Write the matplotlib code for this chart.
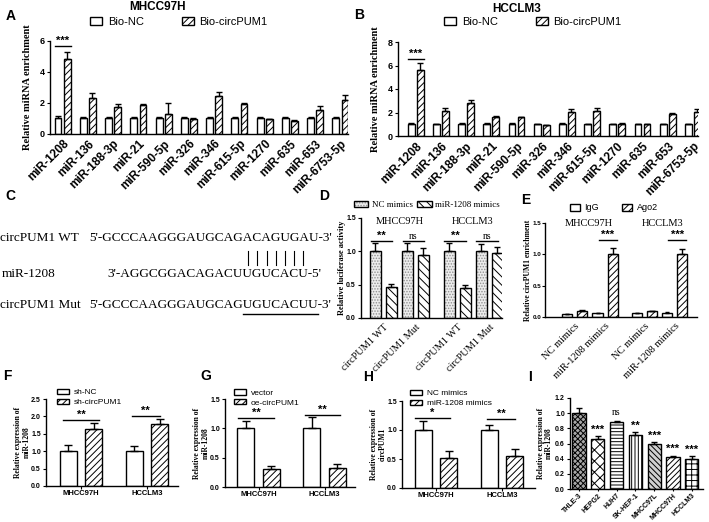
import numpy as np
import matplotlib.pyplot as plt
from matplotlib.lines import Line2D
from matplotlib.font_manager import FontProperties

W, H = 709, 522
SANS = 'Liberation Sans'
SERIF = 'Liberation Serif'

plt.rcParams['font.family'] = SANS
plt.rcParams['hatch.linewidth'] = 0.7
plt.rcParams['axes.linewidth'] = 1.0

# A / B: biotin-coupled circPUM1 pull-down
mirnas = ['miR-1208', 'miR-136', 'miR-188-3p', 'miR-21', 'miR-590-5p', 'miR-326',
          'miR-346', 'miR-615-5p', 'miR-1270', 'miR-635', 'miR-653', 'miR-6753-5p']
a_nc = [1.0, 1.0, 1.0, 1.0, 1.0, 1.0, 1.0, 1.0, 1.0, 1.0, 1.0, 1.0]
a_nc_err = [0.12, 0.08, 0.06, 0.08, 0.10, 0.05, 0.06, 0.10, 0.07, 0.06, 0.10, 0.07]
a_circ = [4.8, 2.3, 1.74, 1.83, 1.25, 0.98, 2.43, 1.9, 0.92, 0.84, 1.55, 2.17]
a_circ_err = [0.45, 0.3, 0.15, 0.07, 0.75, 0.04, 0.27, 0.05, 0.05, 0.04, 0.25, 0.33]
b_nc = [1.0, 1.0, 1.0, 1.0, 1.0, 1.0, 1.0, 1.0, 1.0, 1.0, 1.0, 1.0]
b_nc_err = [0.1, 0.06, 0.08, 0.07, 0.08, 0.06, 0.1, 0.06, 0.06, 0.05, 0.05, 0.06]
b_circ = [5.65, 2.15, 2.77, 1.63, 1.6, 0.9, 2.05, 2.1, 1.05, 1.0, 1.9, 2.05]
b_circ_err = [0.6, 0.2, 0.3, 0.07, 0.05, 0.05, 0.25, 0.3, 0.05, 0.05, 0.08, 0.25]

# C: binding site
wt_seq = "5'-GCCCAAGGGAUGCAGACAGUGAU-3'"
mir_seq = "3'-AGGCGGACAGACUUGUCACU-5'"
mut_seq = "5'-GCCCAAGGGAUGCAGUGUCACUU-3'"
wt_site = 'ACAGUGA'
seed = 'UGUCACU'
mut_site = 'UGUCACUU'

# D: luciferase
cells = ['MHCC97H', 'HCCLM3']
d_groups = ['circPUM1 WT', 'circPUM1 Mut', 'circPUM1 WT', 'circPUM1 Mut']
d_nc = [1.0, 1.0, 1.0, 1.0]
d_nc_err = [0.13, 0.13, 0.12, 0.11]
d_mimic = [0.47, 0.95, 0.45, 0.98]
d_mimic_err = [0.04, 0.1, 0.05, 0.08]
d_sig = ['**', 'ns', '**', 'ns']

# E: Ago2 RIP
e_groups = ['NC mimics', 'miR-1208 mimics', 'NC mimics', 'miR-1208 mimics']
e_igg = [0.05, 0.06, 0.06, 0.07]
e_igg_err = [0.005, 0.005, 0.005, 0.005]
e_ago = [0.10, 1.0, 0.09, 1.0]
e_ago_err = [0.01, 0.1, 0.01, 0.08]

# F, G, H
f_nc = [1.0, 1.0]
f_nc_err = [0.17, 0.15]
f_sh = [1.63, 1.78]
f_sh_err = [0.17, 0.14]
g_vec = [1.0, 1.0]
g_vec_err = [0.13, 0.2]
g_oe = [0.3, 0.32]
g_oe_err = [0.05, 0.07]
h_nc = [1.0, 1.0]
h_nc_err = [0.15, 0.08]
h_mimic = [0.52, 0.55]
h_mimic_err = [0.12, 0.12]

# I: cell lines
i_lines = ['THLE-3', 'HEPG2', 'HUH7', 'SK-HEP-1', 'MHCC97L', 'MHCC97H', 'HCCLM3']
i_vals = [1.0, 0.66, 0.89, 0.71, 0.59, 0.42, 0.39]
i_err = [0.07, 0.04, 0.01, 0.04, 0.03, 0.02, 0.04]
i_sig = ['', '***', 'ns', '**', '***', '***', '***']

fig = plt.figure(figsize=(W / 100, H / 100), dpi=100)


def px_axes(left, right, top, bottom):
    ax = fig.add_axes([left / W, 1 - bottom / H, (right - left) / W, (bottom - top) / H])
    ax.spines[['top', 'right']].set_visible(False)
    ax.tick_params(direction='out', length=2.5, width=0.8, pad=1.2)
    return ax


def ftext(x, y, s, **kw):
    return fig.text(x / W, 1 - y / H, s, **kw)


def bars(ax, x, vals, err, width, cap, **kw):
    kw.setdefault('edgecolor', 'black')
    kw.setdefault('linewidth', 1)
    b = ax.bar(x, vals, width, zorder=2, **kw)
    ax.errorbar(x, vals, yerr=[np.zeros(len(vals)), err], fmt='none', ecolor='black',
                elinewidth=1, capsize=cap, capthick=1, zorder=3)
    return b


def sig(ax, x0, x1, y, label, fs, serif=False):
    ax.plot([x0, x1], [y, y], color='black', lw=1, clip_on=False)
    if serif:
        ax.text((x0 + x1) / 2, y, label, ha='center', va='bottom', fontsize=fs,
                family=SERIF, clip_on=False)
    else:
        ax.text((x0 + x1) / 2, y, label, ha='center', va='bottom', fontsize=fs,
                fontweight='bold', clip_on=False)


def yticks(ax, ticks, fmt, fs):
    ax.set_yticks(ticks, [fmt.format(t) for t in ticks], fontsize=fs, fontweight='bold')


# ---------- A and B ----------
for (vals_nc, err_nc, vals_c, err_c, box, xl, ymax, title, tpos, lpos, sig_y) in [
        (a_nc, a_nc_err, a_circ, a_circ_err, (50, 348, 40.7, 133.7), (-0.5, 11.3), 6,
         'MHCC97H', (158, 7), (179, 22), 5.66),
        (b_nc, b_nc_err, b_circ, b_circ_err, (398, 698, 42, 136), (-0.7, 11.2), 8,
         'HCCLM3', (517, 9), (533, 22), 6.55)]:
    ax = px_axes(*box)
    x = np.arange(len(mirnas))
    h1 = bars(ax, x - 0.18, vals_nc, err_nc, 0.27, 2.2, color='white')
    h2 = bars(ax, x + 0.18, vals_c, err_c, 0.27, 2.2, color='white', hatch='/////')
    ax.set_xlim(*xl)
    ax.set_ylim(0, ymax)
    yticks(ax, list(range(0, ymax + 1, 2)), '{}', 6.5)
    ax.set_xticks(x, mirnas, rotation=45, ha='right', rotation_mode='anchor',
                  fontsize=8.5, fontweight='bold')
    ax.tick_params(axis='x', length=0, pad=3)
    ax.set_ylabel('Relative miRNA enrichment', family=SERIF, fontweight='bold',
                  fontsize=7.5, va='center')
    ax.yaxis.set_label_coords(-22 / (box[1] - box[0]), 0.5)
    sig(ax, -0.32, 0.33, sig_y, '***', 8)
    ftext(*tpos, title, ha='center', va='center', fontsize=8.5, fontweight='bold')
    fig.legend([h1, h2], ['Bio-NC', 'Bio-circPUM1'], loc='center',
               bbox_to_anchor=(lpos[0] / W, 1 - lpos[1] / H), ncol=2, frameon=False,
               fontsize=8, handlelength=1.1, handleheight=0.7, handletextpad=0.5,
               columnspacing=3.4, borderpad=0)

# ---------- C ----------
fp = FontProperties(family=SERIF, size=9.5)
renderer = fig.canvas.get_renderer()


def text_w(s):
    return renderer.get_text_width_height_descent(s, fp, ismath=False)[0]


seq_x = 89
k_wt = wt_seq.index(wt_site)
k_mir = mir_seq.index(seed)
mir_x = seq_x + text_w(wt_seq[:k_wt]) - text_w(mir_seq[:k_mir])
ftext(0, 238, 'circPUM1 WT', fontproperties=fp, va='center')
ftext(seq_x, 238, wt_seq, fontproperties=fp, va='center')
ftext(2, 274, 'miR-1208', fontproperties=fp, va='center')
ftext(mir_x, 274, mir_seq, fontproperties=fp, va='center')
ftext(0, 305, 'circPUM1 Mut', fontproperties=fp, va='center')
ftext(seq_x, 305, mut_seq, fontproperties=fp, va='center')
for i in range(len(seed)):
    xc = mir_x + text_w(mir_seq[:k_mir + i]) + text_w(mir_seq[k_mir + i]) / 2
    fig.add_artist(Line2D([xc / W, xc / W], [1 - 251 / H, 1 - 265 / H], color='black',
                          lw=0.8, transform=fig.transFigure))
k_mut = mut_seq.index(mut_site)
u0 = seq_x + text_w(mut_seq[:k_mut])
u1 = seq_x + text_w(mut_seq[:k_mut + len(mut_site)])
fig.add_artist(Line2D([u0 / W, u1 / W], [1 - 314 / H, 1 - 314 / H], color='black',
                      lw=1, transform=fig.transFigure))

# ---------- D ----------
ax = px_axes(361, 502, 218, 318)
pos_nc = np.array([0, 2, 4.6, 6.6])
pos_mi = pos_nc + 1
hd1 = ax.bar(pos_nc, d_nc, 0.7, color='#ececec', edgecolor='#909090', hatch='......',
             linewidth=0, zorder=2)
hd2 = bars(ax, pos_nc, d_nc, d_nc_err, 0.7, 2.2, fill=False)
hd3 = bars(ax, pos_mi, d_mimic, d_mimic_err, 0.7, 2.2, color='white', hatch='\\\\\\\\')
ax.set_xlim(-0.9, 7.9)
ax.set_ylim(0, 1.5)
yticks(ax, [0, 0.5, 1.0, 1.5], '{:.1f}', 5)
ax.set_xticks(pos_nc + 0.5, d_groups, rotation=45, ha='right', rotation_mode='anchor',
              fontsize=7.5, family=SERIF)
ax.tick_params(axis='x', length=0, pad=3)
ax.set_ylabel('Relative luciferase activity', family=SERIF, fontweight='bold',
              fontsize=6, va='center')
ax.yaxis.set_label_coords(-19 / 141, 0.5)
for p, s in zip(pos_nc, d_sig):
    sig(ax, p - 0.3, p + 1.05, 1.15, s, 7 if s == 'ns' else 8, serif=(s == 'ns'))
for c, p in zip(cells, [400, 473]):
    ftext(p, 222, c, ha='center', va='center', fontsize=7.5, family=SERIF)
fig.legend([(hd1, hd2), hd3], ['NC mimics', 'miR-1208 mimics'], loc='center',
           bbox_to_anchor=(427 / W, 1 - 205 / H), ncol=2, frameon=False,
           prop={'family': SERIF, 'size': 6.5}, handlelength=1.6, handleheight=0.7,
           handletextpad=0.4, columnspacing=0.5, borderpad=0)

# ---------- E ----------
ax = px_axes(545, 697, 223, 317)
he1 = bars(ax, pos_nc, e_igg, e_igg_err, 0.67, 1.5, color='white')
he2 = bars(ax, pos_mi, e_ago, e_ago_err, 0.67, 2.2, color='white', hatch='/////')
ax.set_xlim(-1.47, 8.57)
ax.set_ylim(0, 1.5)
yticks(ax, [0, 0.5, 1.0, 1.5], '{:.1f}', 4.5)
ax.tick_params(axis='y', length=2, pad=0.8)
ax.set_xticks(pos_nc + 0.5, e_groups, rotation=45, ha='right', rotation_mode='anchor',
              fontsize=7.5, family=SERIF)
ax.tick_params(axis='x', length=0, pad=3)
ax.set_ylabel('Relative circPUM1 enrichment', family=SERIF, fontweight='bold',
              fontsize=5.5, va='center')
ax.yaxis.set_label_coords(-17 / 152, 0.5)
for p in [pos_mi[1], pos_mi[3]]:
    sig(ax, p - 0.93, p + 0.27, 1.23, '***', 8)
for c, p in zip(cells, [589, 663]):
    ftext(p, 223, c, ha='center', va='center', fontsize=7.5, family=SERIF)
fig.legend([he1, he2], ['IgG', 'Ago2'], loc='center', bbox_to_anchor=(614 / W, 1 - 208 / H),
           ncol=2, frameon=False, fontsize=6.5, handlelength=1.1, handleheight=0.7,
           handletextpad=0.5, columnspacing=2.6, borderpad=0)

# ---------- F, G, H ----------
fgh = [
    ((46, 178, 399, 486), (-0.53, 1.47), 2.5, f_nc, f_nc_err, f_sh, f_sh_err,
     ['sh-NC', 'sh-circPUM1'], 'Relative expression of\nmiR-1208', (57, 397.5),
     [(-0.28, 0.28, 1.9, '**'), (0.77, 1.19, 2.01, '**')]),
    ((225, 355, 399, 487), (-0.51, 1.46), 1.5, g_vec, g_vec_err, g_oe, g_oe_err,
     ['vector', 'oe-circPUM1'], 'Relative expression of\nmiR-1208', (234, 398),
     [(-0.31, 0.23, 1.18, '**'), (0.7, 1.23, 1.23, '**')]),
    ((402, 535, 401, 488), (-0.515, 1.5), 1.5, h_nc, h_nc_err, h_mimic, h_mimic_err,
     ['NC mimics', 'miR-1208 mimics'], 'Relative expression of\ncircPUM1', (410, 398.5),
     [(-0.32, 0.21, 1.21, '*'), (0.77, 1.2, 1.19, '**')]),
]
for box, xl, ymax, v1, e1, v2, e2, labels, ylab, lpos, sigs in fgh:
    ax = px_axes(*box)
    x = np.arange(2)
    h1 = bars(ax, x - 0.193, v1, e1, 0.26, 3, color='white')
    h2 = bars(ax, x + 0.193, v2, e2, 0.26, 3, color='white', hatch='/////')
    ax.set_xlim(*xl)
    ax.set_ylim(0, ymax)
    yticks(ax, list(np.arange(0, ymax + 0.01, 0.5)), '{:.1f}', 5)
    ax.set_xticks(x, cells, fontsize=5.5, fontweight='bold')
    ax.tick_params(axis='x', length=2)
    ax.set_ylabel(ylab, family=SERIF, fontweight='bold', fontsize=5.5, va='center',
                  linespacing=1.1)
    ax.yaxis.set_label_coords(-23.5 / (box[1] - box[0]), 0.5)
    for x0, x1, y, s in sigs:
        sig(ax, x0, x1, y, s, 8)
    fig.legend([h1, h2], labels, loc='center left',
               bbox_to_anchor=(lpos[0] / W, 1 - lpos[1] / H), frameon=False,
               fontsize=6, handlelength=1.4, handleheight=0.6, handletextpad=0.6,
               labelspacing=0.25, borderpad=0, borderaxespad=0)

# ---------- I ----------
ax = px_axes(570, 703, 398, 489)
i_hatch = ['xxxxxx', 'xxx', '-----', '|||||', '\\\\\\\\\\\\', '//////', '+++']
i_face = ['#a8a8a8', 'white', 'white', 'white', '#d0d0d0', 'white', 'white']
xi = np.arange(len(i_lines))
for k in range(len(i_lines)):
    bars(ax, [xi[k]], [i_vals[k]], [i_err[k]], 0.7, 2.2, color=i_face[k], hatch=i_hatch[k])
for k, s in enumerate(i_sig):
    if s == 'ns':
        ax.text(xi[k], i_vals[k] + i_err[k] + 0.05, s, ha='center', va='bottom',
                fontsize=7, family=SERIF)
    elif s:
        ax.text(xi[k], i_vals[k] + i_err[k] + 0.02, s, ha='center', va='bottom',
                fontsize=8, fontweight='bold')
ax.set_xlim(-0.48, 6.6)
ax.set_ylim(0, 1.2)
yticks(ax, [0, 0.2, 0.4, 0.6, 0.8, 1.0, 1.2], '{:.1f}', 5)
ax.set_xticks(xi, i_lines, rotation=45, ha='right', rotation_mode='anchor',
              fontsize=5, fontweight='bold')
ax.tick_params(axis='x', length=1.5, pad=0.8)
ax.set_ylabel('Relative expression of\nmiR-1208', family=SERIF, fontweight='bold',
              fontsize=5.5, va='center', linespacing=1.1)
ax.yaxis.set_label_coords(-25 / 133, 0.5)

# ---------- panel letters ----------
for letter, (px, py) in zip('ABCDEFGHI', [(11, 16), (359, 15), (10, 196), (324, 196),
                                          (526, 200), (7, 376), (206, 376), (368, 377),
                                          (530, 377)]):
    ftext(px, py, letter, ha='center', va='center', fontsize=10, fontweight='bold')

fig.savefig('out.png', dpi=100)
